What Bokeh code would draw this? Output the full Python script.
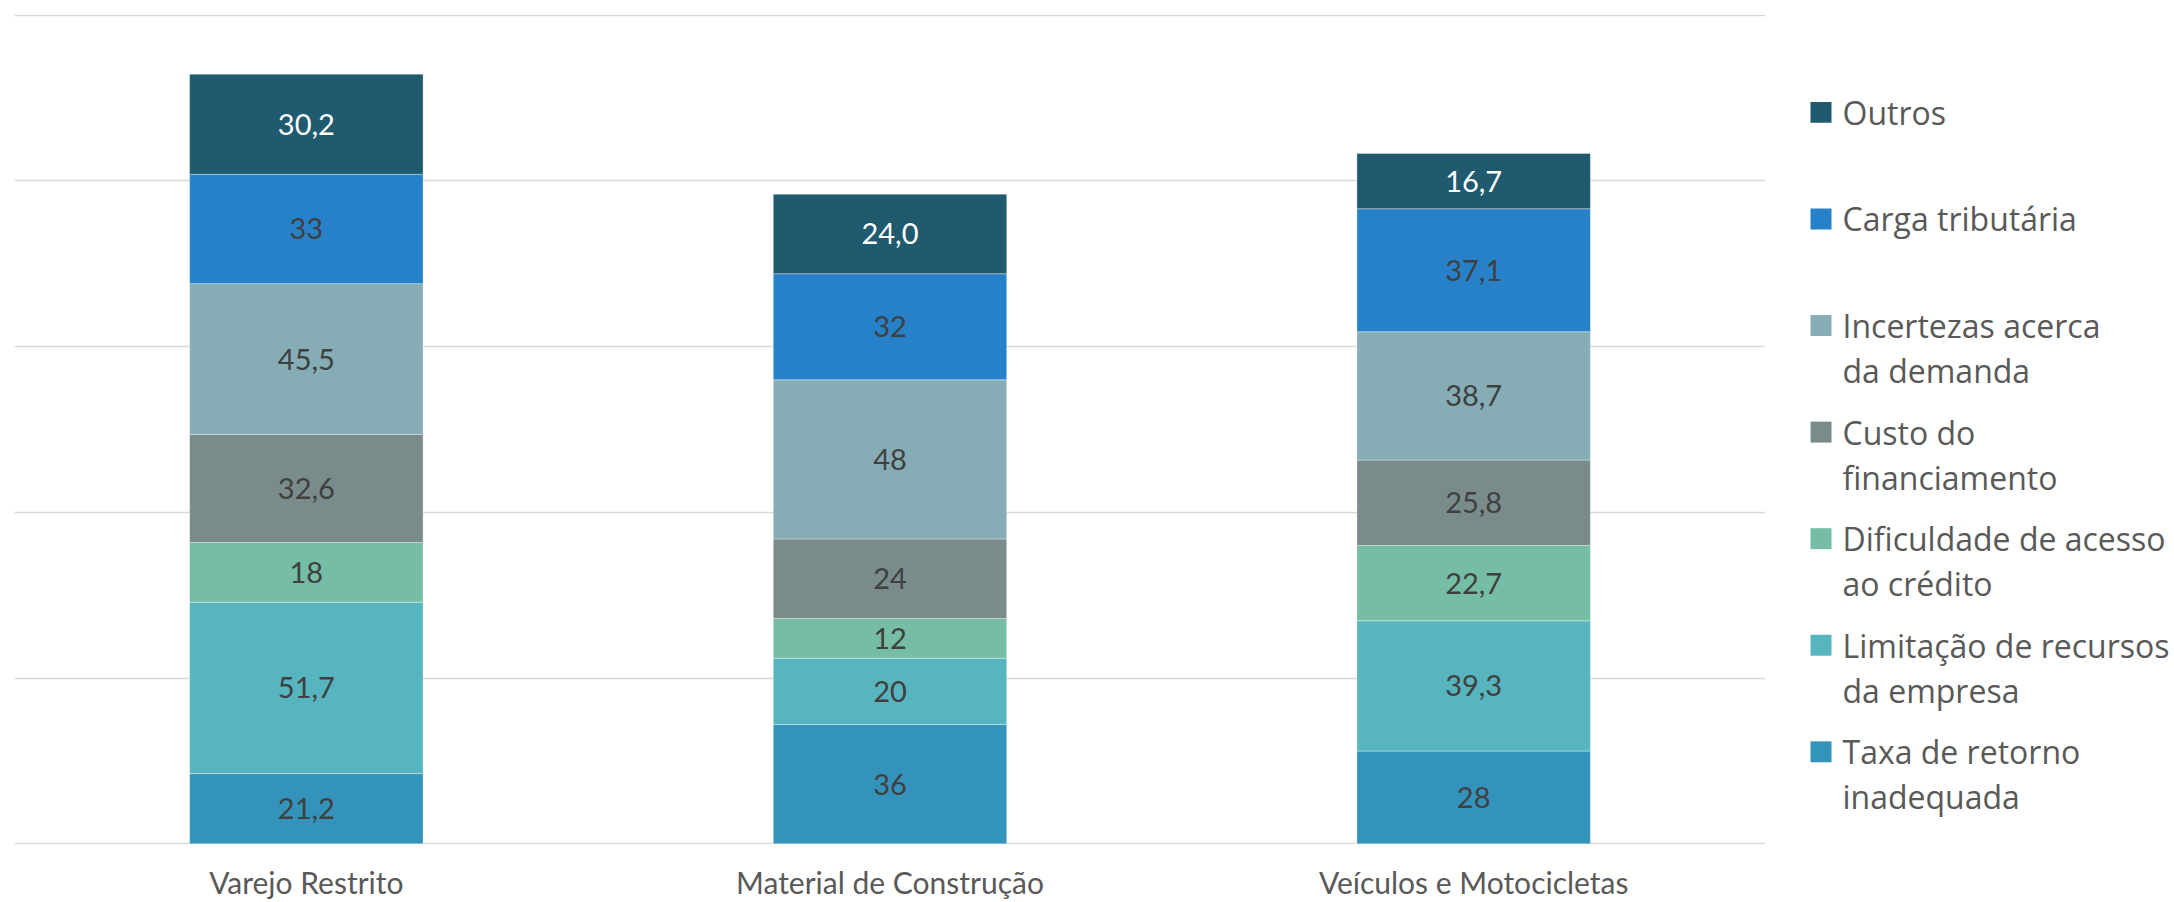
from bokeh.plotting import figure
from bokeh.layouts import row
from bokeh.models import ColumnDataSource, Range1d, FactorRange, FixedTicker
from bokeh.core.properties import value
from bokeh.embed import file_html
from bokeh.resources import INLINE

# ---------------- data ----------------
categories = ["Varejo Restrito", "Material de Construção", "Veículos e Motocicletas"]

series_keys = ["taxa", "limitacao", "dificuldade", "custo", "incertezas", "carga", "outros"]
series_names = ["Taxa de retorno inadequada", "Limitação de recursos da empresa",
                "Dificuldade de acesso ao crédito", "Custo do financiamento",
                "Incertezas acerca da demanda", "Carga tributária", "Outros"]
legend_lines = [["Taxa de retorno", "inadequada"],
                ["Limitação de recursos", "da empresa"],
                ["Dificuldade de acesso", "ao crédito"],
                ["Custo do", "financiamento"],
                ["Incertezas acerca", "da demanda"],
                ["Carga tributária", ""],
                ["Outros", ""]]
colors = ["#3493BA", "#57B5BF", "#75BEA5", "#7A8B8C", "#86ADB6", "#2681C8", "#1F5A6F"]

taxa = [21.2, 36, 28]
limitacao = [51.7, 20, 39.3]
dificuldade = [18, 12, 22.7]
custo = [32.6, 24, 25.8]
incertezas = [45.5, 48, 38.7]
carga = [33, 32, 37.1]
outros = [30.2, 24.0, 16.7]

y_ticks = [0, 50, 100, 150, 200, 250]

values = [taxa, limitacao, dificuldade, custo, incertezas, carga, outros]

# ---------------- main chart ----------------
data = {"cat": categories}
for k, v in zip(series_keys, values):
    data[k] = v
src = ColumnDataSource(data)

H = 902
TOP, BOTTOM = 14, 57

p = figure(x_range=FactorRange(*categories), y_range=Range1d(-0.2, 250.2),
           width=1765, height=H, output_backend="svg", toolbar_location=None,
           min_border_left=14, min_border_right=0, min_border_top=TOP,
           min_border_bottom=BOTTOM)

p.vbar_stack(series_keys, x="cat", width=0.4, color=colors, source=src,
             line_color="white", line_alpha=0.35, line_width=1)

# segment labels
base = [0.0] * len(categories)
for si, (k, v) in enumerate(zip(series_keys, values)):
    mids = [b + x / 2 for b, x in zip(base, v)]
    if k == "outros":
        txt = [("%.1f" % x).replace(".", ",") for x in v]
        col = "white"
    else:
        txt = [("%g" % x).replace(".", ",") for x in v]
        col = "#404040"
    p.text(x=categories, y=mids, text=txt, text_color=col,
           text_font=value("Lato"), text_font_size="29px",
           text_align="center", text_baseline="middle")
    base = [b + x for b, x in zip(base, v)]

p.yaxis.visible = False
p.xgrid.visible = False
p.ygrid.ticker = FixedTicker(ticks=y_ticks)
p.ygrid.grid_line_color = "#D9D9D9"
p.ygrid.grid_line_width = 1.5
p.outline_line_color = None
p.xaxis.axis_line_color = None
p.xaxis.major_tick_line_color = None
p.xaxis.minor_tick_line_color = None
p.xaxis.major_label_text_font = "Lato"
p.xaxis.major_label_text_font_size = "30px"
p.xaxis.major_label_text_color = "#595959"
p.xaxis.major_label_standoff = 13

# ---------------- legend panel ----------------
LW = 2174 - 1765
lf = figure(width=LW, height=H, x_range=Range1d(0, LW), y_range=Range1d(H - BOTTOM, TOP),
            output_backend="svg", toolbar_location=None,
            min_border_left=0, min_border_right=0, min_border_top=TOP,
            min_border_bottom=BOTTOM)
lf.axis.visible = False
lf.grid.visible = False
lf.outline_line_color = None

order = list(range(len(series_names)))[::-1]  # Outros first
y0, pitch, line_gap = 112, 106.7, 45
ys = [y0 + i * pitch for i in range(len(order))]
lf.rect(x=[55.5] * len(order), y=ys, width=21, height=21,
        color=[colors[j] for j in order], line_color=None)
lf.text(x=[77] * len(order), y=ys, text=[legend_lines[j][0] for j in order],
        text_font=value("Open Sans"), text_font_size="32px", text_color="#595959",
        text_align="left", text_baseline="middle")
sec_y = [y + line_gap for y, j in zip(ys, order) if legend_lines[j][1]]
sec_t = [legend_lines[j][1] for j in order if legend_lines[j][1]]
lf.text(x=[77] * len(sec_t), y=sec_y, text=sec_t,
        text_font=value("Open Sans"), text_font_size="32px", text_color="#595959",
        text_align="left", text_baseline="middle")

layout = row(p, lf)
open("out.html", "w").write(file_html(layout, INLINE))
